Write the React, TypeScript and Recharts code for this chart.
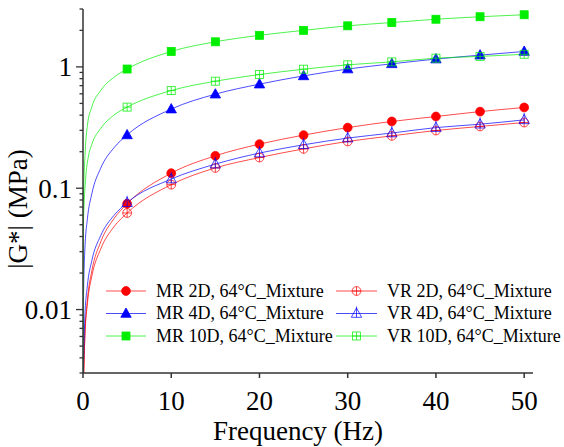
import React from 'react';
import { LineChart, Line, XAxis, YAxis } from 'recharts';

// ---------- data ----------
const freq = [5, 10, 15, 20, 25, 30, 35, 40, 45, 50];

const mr2d = [0.0745, 0.133, 0.185, 0.231, 0.274, 0.316, 0.355, 0.39, 0.428, 0.463];
const mr4d = [0.275, 0.449, 0.596, 0.721, 0.843, 0.96, 1.06, 1.16, 1.25, 1.34];
const mr10d = [0.96, 1.34, 1.61, 1.82, 2.0, 2.18, 2.32, 2.47, 2.59, 2.69];
const vr2d = [0.0625, 0.107, 0.147, 0.179, 0.211, 0.243, 0.27, 0.299, 0.323, 0.348];
const vr4d = [0.076, 0.119, 0.158, 0.195, 0.228, 0.259, 0.285, 0.316, 0.337, 0.366];
const vr10d = [0.466, 0.638, 0.762, 0.865, 0.957, 1.04, 1.1, 1.18, 1.22, 1.27];

// fitted-curve points below 5 Hz
const mr2dLowX = [0.09, 0.2, 0.5, 1, 2, 3.5];
const mr2dLowY = [0.003, 0.0058, 0.012, 0.0208, 0.036, 0.056];
const vr2dLowX = [0.085, 0.2, 0.5, 1, 2, 3.5];
const vr2dLowY = [0.003, 0.0057, 0.0112, 0.0188, 0.0315, 0.048];
const vr4dLowX = [0.044, 0.2, 0.5, 1, 2, 3.5];
const vr4dLowY = [0.003, 0.0084, 0.0158, 0.0253, 0.0406, 0.0596];
const mr4dLowX = [0.007, 0.05, 0.2, 0.5, 1, 2, 3.5];
const mr4dLowY = [0.003, 0.0115, 0.03, 0.056, 0.09, 0.146, 0.215];
const mr10dLowX = [0.002, 0.03, 0.25, 0.5, 1, 2, 3.5];
const mr10dLowY = [0.003, 0.07, 0.2, 0.33, 0.468, 0.638, 0.82];
const vr10dLowX = [0.002, 0.03, 0.3, 0.6, 1, 2, 3.5];
const vr10dLowY = [0.003, 0.045, 0.12, 0.18, 0.23, 0.31, 0.4];

const seriesLabels = [
  'MR 2D, 64°C_Mixture',
  'MR 4D, 64°C_Mixture',
  'MR 10D, 64°C_Mixture',
  'VR 2D, 64°C_Mixture',
  'VR 4D, 64°C_Mixture',
  'VR 10D, 64°C_Mixture',
];

const xTicks = [0, 10, 20, 30, 40, 50];
const yTicks = [
  0.003, 0.004, 0.005, 0.006, 0.007, 0.008, 0.009,
  0.01, 0.02, 0.03, 0.04, 0.05, 0.06, 0.07, 0.08, 0.09,
  0.1, 0.2, 0.3, 0.4, 0.5, 0.6, 0.7, 0.8, 0.9,
  1, 2, 3,
];
const yMajor: Record<string, string> = { '0.01': '0.01', '0.1': '0.1', '1': '1' };

const xTitle = 'Frequency (Hz)';
const yTitle = '|G*| (MPa)';

// ---------- styling ----------
const FONT = 'Liberation Serif, DejaVu Serif, serif';
const RED = '#ff0000';
const BLUE = '#0000ff';
const GREEN = '#00ee00';
const AXIS = '#333333';

type Kind = 'circle' | 'triangle' | 'square' | 'ocircle' | 'otriangle' | 'osquare';

const toPts = (xs: number[], ys: number[]) => xs.map((x, i) => ({ x, v: ys[i] }));

function Marker({ kind, color, cx, cy }: { kind: Kind; color: string; cx: number; cy: number }) {
  if (cx == null || cy == null || isNaN(cx) || isNaN(cy)) return null;
  switch (kind) {
    case 'circle':
      return <circle cx={cx} cy={cy} r={4.4} fill={color} stroke={color} strokeWidth={0.8} />;
    case 'triangle':
      return (
        <path
          d={`M${cx},${cy - 5.5}L${cx + 5.2},${cy + 3.8}L${cx - 5.2},${cy + 3.8}Z`}
          fill={color}
          stroke={color}
          strokeWidth={0.8}
        />
      );
    case 'square':
      return <rect x={cx - 4} y={cy - 4} width={8} height={8} fill={color} stroke={color} strokeWidth={0.8} />;
    case 'ocircle':
      return (
        <g fill="none" stroke={color} strokeWidth={0.9} strokeOpacity={0.8}>
          <circle cx={cx} cy={cy} r={4.4} />
          <line x1={cx - 4.4} x2={cx + 4.4} y1={cy} y2={cy} />
          <line x1={cx} x2={cx} y1={cy - 4.4} y2={cy + 4.4} />
        </g>
      );
    case 'otriangle':
      return (
        <g fill="none" stroke={color} strokeWidth={0.9} strokeOpacity={0.8}>
          <path d={`M${cx},${cy - 5.5}L${cx + 5.2},${cy + 3.8}L${cx - 5.2},${cy + 3.8}Z`} />
          <line x1={cx} x2={cx} y1={cy - 7} y2={cy + 3.8} />
        </g>
      );
    case 'osquare':
      return (
        <g fill="none" stroke={color} strokeWidth={0.9} strokeOpacity={0.8}>
          <rect x={cx - 4} y={cy - 4} width={8} height={8} />
          <line x1={cx - 4} x2={cx + 4} y1={cy} y2={cy} />
          <line x1={cx} x2={cx} y1={cy - 4} y2={cy + 4} />
        </g>
      );
  }
  return null;
}

const series: { label: string; kind: Kind; color: string; values: number[]; lowX: number[]; lowY: number[] }[] = [
  { label: seriesLabels[0], kind: 'circle', color: RED, values: mr2d, lowX: mr2dLowX, lowY: mr2dLowY },
  { label: seriesLabels[1], kind: 'triangle', color: BLUE, values: mr4d, lowX: mr4dLowX, lowY: mr4dLowY },
  { label: seriesLabels[2], kind: 'square', color: GREEN, values: mr10d, lowX: mr10dLowX, lowY: mr10dLowY },
  { label: seriesLabels[3], kind: 'ocircle', color: RED, values: vr2d, lowX: vr2dLowX, lowY: vr2dLowY },
  { label: seriesLabels[4], kind: 'otriangle', color: BLUE, values: vr4d, lowX: vr4dLowX, lowY: vr4dLowY },
  { label: seriesLabels[5], kind: 'osquare', color: GREEN, values: vr10d, lowX: vr10dLowX, lowY: vr10dLowY },
];

const textStyle = { fontFamily: FONT };

function YTick(props: any) {
  const { x, y, payload } = props;
  const key = String(payload.value);
  const major = key in yMajor;
  return (
    <g>
      <line x1={x + 4 + (major ? 0 : 3.5)} x2={x + 11} y1={y} y2={y} stroke={AXIS} strokeWidth={1.3} />
      {major && (
        <text x={x} y={y} dy="0.35em" textAnchor="end" fontSize={27} style={textStyle} fill="#000">
          {yMajor[key]}
        </text>
      )}
    </g>
  );
}

function XTick(props: any) {
  const { x, y, payload } = props;
  return (
    <text x={x} y={y} dy="0.71em" textAnchor="middle" fontSize={27} style={textStyle} fill="#000">
      {payload.value}
    </text>
  );
}

function LegendOverlay() {
  const rowY = [291, 313.5, 336];
  const cols = [
    { lineX1: 106, lineX2: 146, textX: 156 },
    { lineX1: 336, lineX2: 377, textX: 387 },
  ];
  return (
    <g>
      {series.map((s, i) => {
        const c = cols[Math.floor(i / 3)];
        const y = rowY[i % 3];
        const mx = (c.lineX1 + c.lineX2) / 2;
        return (
          <g key={s.label}>
            <line x1={c.lineX1} x2={c.lineX2} y1={y} y2={y} stroke={s.color} strokeWidth={1} strokeOpacity={0.7} />
            <Marker kind={s.kind} color={s.color} cx={mx} cy={y} />
            <text x={c.textX} y={y} dy="0.33em" fontSize={18} style={textStyle} fill="#000">
              {s.label}
            </text>
          </g>
        );
      })}
    </g>
  );
}

export default function App() {
  return (
    <div style={{ position: 'absolute', left: 0, top: 0, width: 564, height: 447, background: '#fff', fontFamily: FONT }}>
      <LineChart width={564} height={447} margin={{ top: 9, right: 31, bottom: 0, left: 0 }}>
        <XAxis
          type="number"
          dataKey="x"
          domain={[0, 51]}
          ticks={xTicks}
          interval={0}
          allowDataOverflow
          height={74}
          tickSize={5}
          tickMargin={13}
          axisLine={{ stroke: AXIS, strokeWidth: 1.5 }}
          tickLine={{ stroke: AXIS, strokeWidth: 1.5 }}
          tick={<XTick />}
        />
        <YAxis
          type="number"
          scale="log"
          domain={[0.003, 3]}
          ticks={yTicks}
          interval={0}
          allowDataOverflow
          width={83}
          tickSize={7}
          tickMargin={4}
          tickLine={false}
          axisLine={{ stroke: AXIS, strokeWidth: 1.5 }}
          tick={<YTick />}
        />
        {series.map((s) => (
          <Line
            key={'fit-' + s.label}
            data={[...toPts(s.lowX, s.lowY), ...toPts(freq, s.values)]}
            dataKey="v"
            type="monotone"
            stroke={s.color}
            strokeWidth={1}
            strokeOpacity={0.7}
            dot={false}
            activeDot={false}
            isAnimationActive={false}
          />
        ))}
        {series.map((s) => (
          <Line
            key={'pts-' + s.label}
            data={toPts(freq, s.values)}
            dataKey="v"
            stroke="none"
            dot={(p: any) => <Marker key={'m' + s.label + p.index} kind={s.kind} color={s.color} cx={p.cx} cy={p.cy} />}
            activeDot={false}
            isAnimationActive={false}
          />
        ))}
      </LineChart>
      <svg
        width={564}
        height={447}
        style={{ position: 'absolute', left: 0, top: 0, pointerEvents: 'none' }}
      >
        <LegendOverlay />
        <text x={298} y={440} textAnchor="middle" fontSize={27} style={textStyle} fill="#000">
          {xTitle}
        </text>
        <text
          x={27}
          y={209}
          textAnchor="middle"
          fontSize={27}
          style={textStyle}
          fill="#000"
          transform="rotate(-90, 27, 209)"
        >
          {yTitle}
        </text>
      </svg>
    </div>
  );
}
